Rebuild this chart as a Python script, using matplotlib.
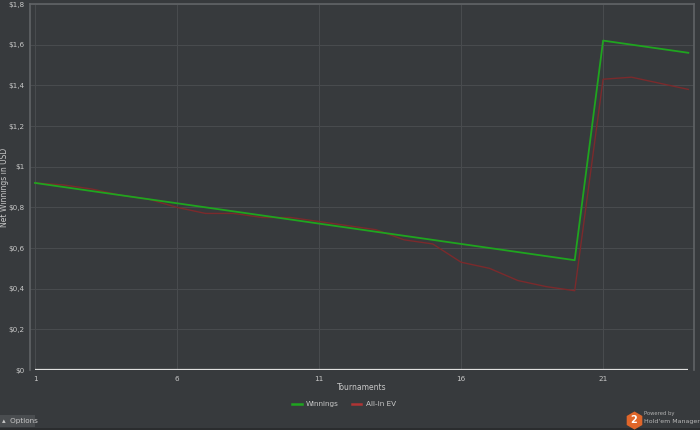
import matplotlib

matplotlib.use("Agg", force=True)
from matplotlib import pyplot as plt
from matplotlib.lines import Line2D
from matplotlib.patches import Rectangle

tournaments = list(range(1, 25))
winnings = [0.92, 0.90, 0.88, 0.86, 0.84, 0.82, 0.80, 0.78, 0.76, 0.74, 0.72, 0.70,
            0.68, 0.66, 0.64, 0.62, 0.60, 0.58, 0.56, 0.54, 1.62, 1.60, 1.58, 1.56]
allin_ev = [0.92, 0.91, 0.89, 0.86, 0.84, 0.80, 0.77, 0.77, 0.75, 0.75, 0.73, 0.71,
            0.69, 0.64, 0.62, 0.53, 0.50, 0.44, 0.41, 0.39, 1.43, 1.44, 1.41, 1.38]
x_ticks = [1, 6, 11, 16, 21]
y_ticks = [0, 0.2, 0.4, 0.6, 0.8, 1.0, 1.2, 1.4, 1.6, 1.8]
y_labels = ["$0", "$0,2", "$0,4", "$0,6", "$0,8", "$1", "$1,2", "$1,4", "$1,6", "$1,8"]

BG = "#373a3d"
GRID = "#484b4e"
TEXT = "#c8c8c8"
GREEN = "#1fa51f"
RED = "#7b2a2c"


def fy(py):
    # pixel row from the top -> figure fraction
    return 1 - py / 430


fig = plt.figure(figsize=(7, 4.3), dpi=100, facecolor=BG)
ax = fig.add_axes([30 / 700, fy(370), 664 / 700, 366 / 430], facecolor=BG)

ev_line, = ax.plot(tournaments, allin_ev, color=RED, lw=1.0, zorder=3)
win_line, = ax.plot(tournaments, winnings, color=GREEN, lw=1.3, zorder=4)
ax.hlines(0, tournaments[0], tournaments[-1], color="#e0e0e0", lw=1.6, zorder=5)

ax.set_xlim(0.824, 24.2)
ax.set_ylim(0, 1.8)
ax.set_xticks(x_ticks)
ax.set_yticks(y_ticks)
ax.set_yticklabels(y_labels)
ax.tick_params(colors=TEXT, labelsize=5.2, length=0, pad=4)
ax.grid(True, color=GRID, lw=0.8)
ax.set_axisbelow(True)
for spine in ax.spines.values():
    spine.set_color("#606366")
    spine.set_linewidth(1.2)
ax.spines["bottom"].set_visible(False)

fig.text(362 / 700, fy(387), "Tournaments", color=TEXT, fontsize=5.5, ha="center", va="center")
ax.set_ylabel("Net Winnings in USD", color=TEXT, fontsize=5.5)
ax.yaxis.set_label_coords(-0.0316, 0.5)

leg = fig.legend([win_line, ev_line], ["Winnings", "All-In EV"], loc="center",
                 bbox_to_anchor=(344 / 700, fy(404)), ncol=2, frameon=False,
                 fontsize=5.2, handlelength=1.3, columnspacing=1.8, handletextpad=0.6)
for t in leg.get_texts():
    t.set_color(TEXT)
leg.legend_handles[1].set_color("#b03434")
for h in leg.legend_handles:
    h.set_linewidth(1.8)

# options button and bottom strip
fig.patches.append(Rectangle((0, fy(427)), 35 / 700, 12 / 430, transform=fig.transFigure,
                             facecolor="#4a4d50", edgecolor="none"))
fig.text(2 / 700, fy(421.5), "\u25b4  Options", color=TEXT, fontsize=5.2, va="center")
fig.patches.append(Rectangle((0, 0), 1, 2 / 430, transform=fig.transFigure,
                             facecolor="#2a2c2e", edgecolor="none"))

# logo
fig.add_artist(Line2D([634 / 700], [fy(420)], transform=fig.transFigure, marker="h",
                      markersize=13, color="#e0662a", markeredgecolor="none"))
fig.text(634 / 700, fy(420), "2", color="white", fontsize=7, fontweight="bold",
         ha="center", va="center")
fig.text(644 / 700, fy(414), "Powered by", color="#b0b0b0", fontsize=3.8, va="center")
fig.text(644 / 700, fy(422), "Hold'em Manager", color="#b8b8b8", fontsize=4.5, va="center")

fig.savefig("out.png", dpi=100, facecolor=BG)
